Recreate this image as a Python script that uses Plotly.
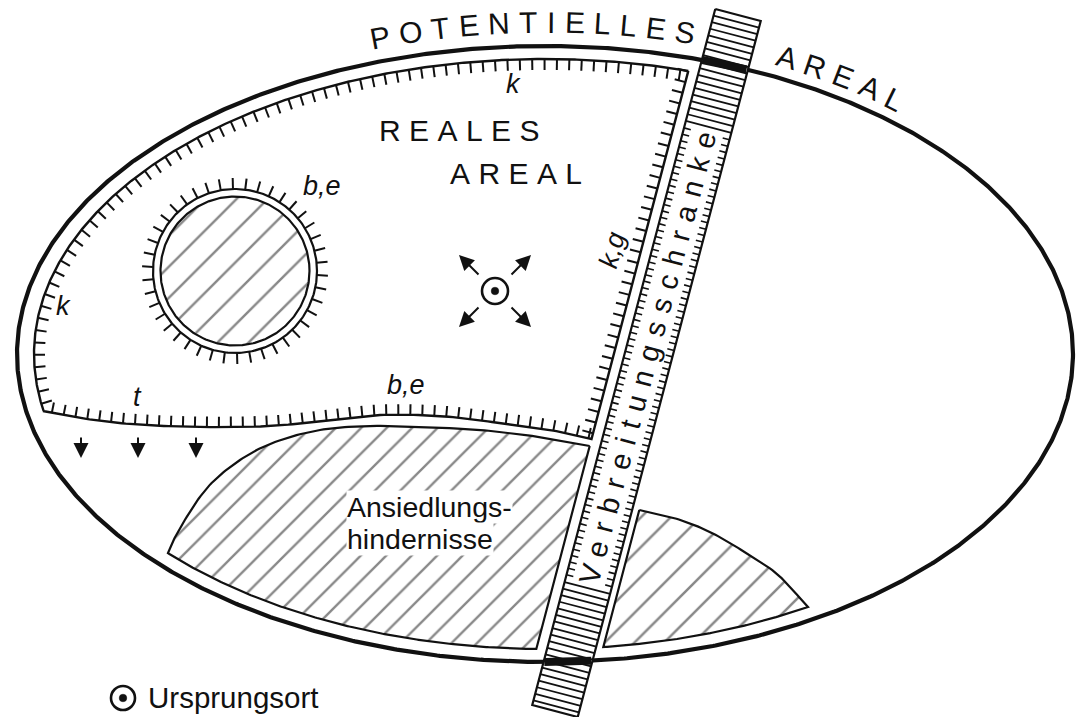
import numpy as np
import plotly.graph_objects as go

# ---------------- geometry (pixel space, y grows downward) -------------
ELLIPSE_CENTER = [545.0, 354.0]
ELLIPSE_SEMI_AXES = [528.0, 308.0]          # potential area
INNER_SEMI_AXES = [511.0, 295.0]            # real area / obstacles follow this inner outline

STRIP_TOP_CENTER = [738.0, 15.0]            # Verbreitungsschranke (barrier strip)
STRIP_BOTTOM_CENTER = [555.0, 711.0]
STRIP_HALF_WIDTH = 23.5
STRIP_RULER_Y = [130.0, 588.0]              # part of the strip carrying the name
BORDER_OFFSETS = [-35.0, 31.5]              # borders left / right of the strip (horizontal offset)

REAL_BOTTOM_X = [43, 80, 130, 200, 270, 330, 380, 440, 500, 550, 591.5]
REAL_BOTTOM_Y = [411, 418, 424, 427, 426, 420, 415, 416, 423, 430, 439]

OBSTACLE_TOP_X = [589.7, 540, 480, 420, 370, 320, 275, 240, 207, 180, 168]
OBSTACLE_TOP_Y = [446, 437, 430, 427, 426, 430, 442, 460, 488, 528, 553.1]

SMALL_OBSTACLE_TOP_X = [639.3, 674, 708, 743, 777, 808]
SMALL_OBSTACLE_TOP_Y = [510, 518, 531, 551, 574, 606.9]

LAKE_CENTER = [235.0, 271.0]
LAKE_RADII = [74.5, 82.0]

ORIGIN_POINT = [495.0, 291.0]
LEGEND_POINT = [123.0, 698.0]
DOWN_ARROW_X = [81, 138, 196]
DOWN_ARROW_Y = [436, 458]

TOP_WORD = "POTENTIELLES"
RIGHT_WORD = "AREAL"
ARIAL_WIDTH = {"P": .667, "O": .778, "T": .611, "E": .667, "N": .722, "I": .278,
               "L": .556, "S": .667, "A": .667, "R": .722}

INK = "#111111"
FONT = "Liberation Sans, Arial, sans-serif"

cx, cy = ELLIPSE_CENTER
EA, EB = ELLIPSE_SEMI_AXES
IA, IB = INNER_SEMI_AXES

T0 = np.array(STRIP_TOP_CENTER)
B0 = np.array(STRIP_BOTTOM_CENTER)
dvec = B0 - T0
strip_len = float(np.hypot(*dvec))
u = dvec / strip_len                      # along strip (downwards)
nvec = np.array([u[1], -u[0]])            # across strip (to the right)


def xc(y):
    return T0[0] + (y - T0[1]) * u[0] / u[1]


def ell(t, A, B):
    return cx + A * np.cos(t), cy - B * np.sin(t)


def param(x, y, A, B):
    return float(np.arctan2(-(y - cy) / B, (x - cx) / A) % (2 * np.pi))


def line_ellipse(h, A, B, upper):
    f = lambda y: ((xc(y) + h - cx) / A) ** 2 + ((y - cy) / B) ** 2 - 1
    a, b = (cy - B, cy) if upper else (cy + B, cy)
    for _ in range(80):
        m = 0.5 * (a + b)
        if (f(m) > 0) == (f(a) > 0):
            a = m
        else:
            b = m
    y = 0.5 * (a + b)
    return xc(y) + h, y


def catmull(xs, ys, n=14):
    P = np.column_stack([xs, ys]).astype(float)
    P = np.vstack([2 * P[0] - P[1], P, 2 * P[-1] - P[-2]])
    out = []
    for i in range(1, len(P) - 2):
        p0, p1, p2, p3 = P[i - 1], P[i], P[i + 1], P[i + 2]
        for t in np.linspace(0, 1, n, endpoint=False):
            out.append(0.5 * (2 * p1 + (-p0 + p2) * t + (2 * p0 - 5 * p1 + 4 * p2 - p3) * t * t
                              + (-p0 + 3 * p1 - 3 * p2 + p3) * t ** 3))
    out.append(P[-2])
    return np.array(out)


def ticks_along(pts, spacing, length, start=None, side=1):
    seg = np.diff(pts, axis=0)
    sl = np.hypot(seg[:, 0], seg[:, 1])
    keep = sl > 1e-9
    seg, sl = seg[keep], sl[keep]
    base = pts[:-1][keep]
    cum = np.concatenate([[0], np.cumsum(sl)])
    xs, ys = [], []
    s = spacing / 2 if start is None else start
    while s < cum[-1]:
        i = min(int(np.searchsorted(cum, s, side="right") - 1), len(sl) - 1)
        f = (s - cum[i]) / sl[i]
        p = base[i] + f * seg[i]
        tx, ty = seg[i] / sl[i]
        nx, ny = ty * side, -tx * side
        xs += [p[0], p[0] + nx * length, None]
        ys += [p[1], p[1] + ny * length, None]
        s += spacing
    return xs, ys


def lines(xs, ys, width, **kw):
    return go.Scatter(x=list(xs), y=list(ys), mode="lines", line=dict(color=INK, width=width),
                      hoverinfo="skip", showlegend=False, **kw)


def hatched(xs, ys, size, solidity):
    return go.Scatter(x=list(xs), y=list(ys), mode="lines", fill="toself", fillcolor="white",
                      fillpattern=dict(shape="/", fgcolor=INK, bgcolor="white", size=size,
                                       solidity=solidity),
                      line=dict(color=INK, width=2.2), hoverinfo="skip", showlegend=False)


fig = go.Figure()

# ---- potential area outline ----
tt = np.linspace(0, 2 * np.pi, 1200)
ex, ey = ell(tt, EA, EB)
fig.add_trace(lines(ex, ey, 4.2))

# ---- settlement obstacles (hatched) ----
top = catmull(OBSTACLE_TOP_X, OBSTACLE_TOP_Y)
br = line_ellipse(BORDER_OFFSETS[0], IA, IB, upper=False)
ta = param(top[-1][0], top[-1][1], IA, IB)
tb = param(br[0], br[1], IA, IB)
ax_, ay_ = ell(np.linspace(ta, tb, 200), IA, IB)
fig.add_trace(hatched(list(top[:, 0]) + list(ax_) + [top[0][0]],
                      list(top[:, 1]) + list(ay_) + [top[0][1]], 18, 0.13))

stop = catmull(SMALL_OBSTACLE_TOP_X, SMALL_OBSTACLE_TOP_Y)
bl = line_ellipse(BORDER_OFFSETS[1], IA, IB, upper=False)
ta = param(stop[-1][0], stop[-1][1], IA, IB)
tb = param(bl[0], bl[1], IA, IB)
ax_, ay_ = ell(np.linspace(ta, tb, 120), IA, IB)
fig.add_trace(hatched(list(stop[:, 0]) + list(ax_) + [stop[0][0]],
                      list(stop[:, 1]) + list(ay_) + [stop[0][1]], 21, 0.12))

# ---- lake-like obstacle inside the real area ----
lcx, lcy = LAKE_CENTER
r_in, r_out = LAKE_RADII
ct = np.linspace(0, 2 * np.pi, 300)
fig.add_trace(hatched(lcx + r_in * np.cos(ct), lcy + r_in * np.sin(ct), 22, 0.11))
fig.add_trace(lines(lcx + r_out * np.cos(ct), lcy + r_out * np.sin(ct), 2.2))
lt = np.linspace(0, 2 * np.pi, 42, endpoint=False) + 0.05
lx, ly = [], []
for a in lt:
    lx += [lcx + r_out * np.cos(a), lcx + (r_out + 11) * np.cos(a), None]
    ly += [lcy + r_out * np.sin(a), lcy + (r_out + 11) * np.sin(a), None]
fig.add_trace(lines(lx, ly, 2))

# ---- real area outline with hachures ----
ptr = line_ellipse(BORDER_OFFSETS[0], IA, IB, upper=True)
t_tr = param(ptr[0], ptr[1], IA, IB)
t_l = np.pi + np.arcsin((REAL_BOTTOM_Y[0] - cy) / IB)
arc_x, arc_y = ell(np.linspace(t_tr, t_l, 500), IA, IB)
arc = np.column_stack([arc_x, arc_y])
bottom = catmull(REAL_BOTTOM_X, REAL_BOTTOM_Y)
pbr = np.array([xc(REAL_BOTTOM_Y[-1]) + BORDER_OFFSETS[0], REAL_BOTTOM_Y[-1]])
right = np.array([pbr, [ptr[0], ptr[1]]])
outline = np.vstack([arc, bottom, right])
fig.add_trace(lines(outline[:, 0], outline[:, 1], 2.4))
for pts, sp, ln, st in [(arc, 12.4, 11, 8), (bottom, 12.0, 10.5, 9), (right, 11.0, 11, 6)]:
    tx_, ty_ = ticks_along(pts, sp, ln, start=st)
    fig.add_trace(lines(tx_, ty_, 2))

# ---- barrier strip ----
hw = STRIP_HALF_WIDTH
c1, c2 = T0 - hw * nvec, T0 + hw * nvec
c3, c4 = B0 + hw * nvec, B0 - hw * nvec
rx = [c1[0], c2[0], c3[0], c4[0], c1[0]]
ry = [c1[1], c2[1], c3[1], c4[1], c1[1]]
fig.add_trace(go.Scatter(x=rx, y=ry, mode="lines", fill="toself", fillcolor="white",
                         line=dict(color=INK, width=2.2), hoverinfo="skip", showlegend=False))
s1 = (STRIP_RULER_Y[0] - T0[1]) / u[1]
s2 = (STRIP_RULER_Y[1] - T0[1]) / u[1]
sx, sy = [], []
for s in list(np.arange(6.8, s1, 6.8)) + list(np.arange(s2, strip_len - 2, 6.8)):
    p = T0 + s * u
    a, b = p - hw * nvec, p + hw * nvec
    sx += [a[0], b[0], None]
    sy += [a[1], b[1], None]
fig.add_trace(lines(sx, sy, 1.8))
kx, ky = [], []
for s in np.arange(s1 + 4, s2 - 2, 6.6):
    p = T0 + s * u
    for sign in (-1, 1):
        e = p + sign * hw * nvec
        f = p + sign * (hw - 7) * nvec
        kx += [e[0], f[0], None]
        ky += [e[1], f[1], None]
fig.add_trace(lines(kx, ky, 1.6))
# the potential-area border crossing the strip
rel = np.column_stack([ex, ey]) - T0
across = rel @ nvec
along = rel @ u
for mask in [(np.abs(across) <= hw) & (along >= 0) & (along <= strip_len) & (ey < cy),
             (np.abs(across) <= hw) & (along >= 0) & (along <= strip_len) & (ey > cy)]:
    fig.add_trace(lines(ex[mask], ey[mask], 8))

# ---------------- texts ----------------
ann = []


def spaced(text, ls):
    return f"<span style='letter-spacing:{ls}px'>{text}</span>"


def along_ellipse(word, start_x, offset, fs, ls):
    A, B = EA + offset, EB + offset
    t = np.linspace(np.pi, 0, 4000)
    x, y = ell(t, A, B)
    seg = np.hypot(np.diff(x), np.diff(y))
    cum = np.concatenate([[0], np.cumsum(seg)])
    s = float(np.interp(start_x, x, cum))
    for ch in word:
        w = ARIAL_WIDTH[ch] * fs
        sm = s + w / 2
        px_ = float(np.interp(sm, cum, x))
        py_ = float(np.interp(sm, cum, y))
        i = int(np.clip(np.searchsorted(cum, sm), 1, len(x) - 1))
        ang = np.degrees(np.arctan2(y[i] - y[i - 1], x[i] - x[i - 1]))
        ann.append(dict(x=px_, y=py_, text=ch, textangle=ang, showarrow=False,
                        font=dict(family=FONT, size=fs, color=INK),
                        xanchor="center", yanchor="middle"))
        s += w + ls


along_ellipse(TOP_WORD, 370, 24, 30, 9.4)
along_ellipse(RIGHT_WORD, 777, 22, 30, 8.9)

ls_big = 8.4
ann.append(dict(x=459.5 + ls_big / 2, y=130, text=spaced("REALES", ls_big), showarrow=False,
                font=dict(family=FONT, size=30, color=INK)))
ann.append(dict(x=515.5 + ls_big / 2, y=173, text=spaced("AREAL", ls_big), showarrow=False,
                font=dict(family=FONT, size=30, color=INK)))

ls_v = 9.8
sc = (358 - T0[1]) / u[1]
pc = T0 + sc * u - (ls_v / 2) * u
ang_v = float(np.degrees(np.arctan2(-u[1], -u[0])))
ann.append(dict(x=pc[0], y=pc[1], text=spaced("Verbreitungsschranke", ls_v), showarrow=False,
                textangle=ang_v, font=dict(family=FONT, size=29, color=INK)))

for txt, x, y, ang in [("k", 513, 84, 0), ("k", 63, 306, 0), ("b,e", 322, 186, 0),
                       ("b,e", 406, 385, 0), ("t", 137, 397, 0), ("k,g", 612, 250, ang_v)]:
    ann.append(dict(x=x, y=y, text=f"<i>{txt}</i>", showarrow=False, textangle=ang,
                    font=dict(family=FONT, size=27, color=INK)))

ann.append(dict(x=346, y=507, text="Ansiedlungs-", showarrow=False, xanchor="left",
                font=dict(family=FONT, size=28.5, color=INK), bgcolor="white", borderpad=0))
ann.append(dict(x=346, y=539, text="hindernisse", showarrow=False, xanchor="left",
                font=dict(family=FONT, size=28.5, color=INK), bgcolor="white", borderpad=0))
ann.append(dict(x=146, y=697, text="Ursprungsort", showarrow=False, xanchor="left",
                font=dict(family=FONT, size=29.5, color=INK)))

# arrows
ox, oy = ORIGIN_POINT
for dx, dy in [(-1, -1), (1, -1), (-1, 1), (1, 1)]:
    ann.append(dict(x=ox + 36 * dx, y=oy + 36 * dy, ax=ox + 15 * dx, ay=oy + 15 * dy,
                    xref="x", yref="y", axref="x", ayref="y", text="", showarrow=True,
                    arrowhead=2, arrowsize=1.5, arrowwidth=2, arrowcolor=INK))
for x in DOWN_ARROW_X:
    ann.append(dict(x=x, y=DOWN_ARROW_Y[1], ax=x, ay=DOWN_ARROW_Y[0],
                    xref="x", yref="y", axref="x", ayref="y", text="", showarrow=True,
                    arrowhead=2, arrowsize=1.5, arrowwidth=2, arrowcolor=INK))

for a in ann:
    a.setdefault("xref", "x")
    a.setdefault("yref", "y")
fig.update_layout(annotations=ann)

shapes = []
for (px0, py0), r, w in [(ORIGIN_POINT, 13, 2.6), (LEGEND_POINT, 12, 2.6)]:
    shapes.append(dict(type="circle", xref="x", yref="y", x0=px0 - r, x1=px0 + r, y0=py0 - r, y1=py0 + r,
                       line=dict(color=INK, width=w)))
    shapes.append(dict(type="circle", xref="x", yref="y", x0=px0 - 3.8, x1=px0 + 3.8, y0=py0 - 3.8,
                       y1=py0 + 3.8, line=dict(color=INK, width=0.5), fillcolor=INK))
fig.update_layout(shapes=shapes)

fig.update_layout(width=1076, height=717, autosize=False, margin=dict(l=0, r=0, t=0, b=0),
                  paper_bgcolor="white", plot_bgcolor="white", showlegend=False,
                  xaxis=dict(range=[0, 1076], visible=False, fixedrange=True),
                  yaxis=dict(range=[717, 0], visible=False, fixedrange=True))

fig.write_html("out.html", config={"displayModeBar": False},
               post_script="document.body.style.margin='0';document.body.style.overflow='hidden';")
